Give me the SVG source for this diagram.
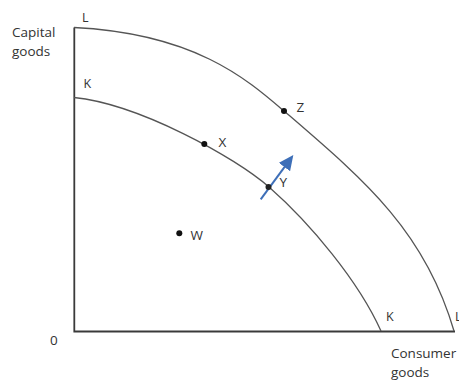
<svg xmlns="http://www.w3.org/2000/svg" width="459" height="383" viewBox="0 0 459 383">
<style>
.axis{fill:none;stroke:#3a3a3a;stroke-width:1.8}
.ppf{fill:none;stroke:#555;stroke-width:1.3}
.t{font-family:"Open Sans","Liberation Sans",sans-serif;fill:#333;font-size:13.5px}
.s{font-size:12.5px}
.dot{fill:#111}
.arrow{stroke:#3e6fb8;stroke-width:2;fill:none}
</style>
<defs>
<marker id="ah" markerUnits="userSpaceOnUse" markerWidth="16" markerHeight="14" refX="5" refY="7" orient="auto">
<path d="M0,0 L15,7 L0,14 z" fill="#3e6fb8"/>
</marker>
</defs>
<rect width="459" height="383" fill="#fff"/>
<g id="axes">
<path class="axis" d="M74.3,27.5 V331.5 H455"/>
<text class="t" x="12" y="37">Capital</text>
<text class="t" x="12" y="55.5">goods</text>
<text class="t" x="50" y="345">0</text>
<text class="t" x="391" y="358">Consumer</text>
<text class="t" x="391" y="377">goods</text>
</g>
<g id="connectors">
<path id="curve-L" class="ppf" d="M74,27.5 C194,33.5 246.1,78.4 284,111 C363.6,179.5 424.7,230.2 454,331"/>
<path id="curve-K" class="ppf" d="M74,97.5 C139,104 235.2,157.3 269,187 C310.3,223.4 358.4,280.8 381,331"/>
<line class="arrow" x1="260.7" y1="199.3" x2="287.4" y2="163.05" marker-end="url(#ah)"/>
</g>
<g id="label-L"><text class="t s" x="82" y="21.7">L</text><text class="t s" x="455" y="321">L</text></g>
<g id="label-K"><text class="t s" x="83.5" y="88.3">K</text><text class="t s" x="386" y="321">K</text></g>
<g id="point-W"><circle class="dot" cx="179.3" cy="233.3" r="3"/><text class="t" x="190.5" y="239.5">W</text></g>
<g id="point-X"><circle class="dot" cx="204.3" cy="144" r="3"/><text class="t" x="218.5" y="146.7">X</text></g>
<g id="point-Y"><circle cx="268.5" cy="187" r="3" fill="#222"/><text class="t" x="279.5" y="187">Y</text></g>
<g id="point-Z"><circle class="dot" cx="284" cy="111" r="3"/><text class="t" x="296.5" y="111.7">Z</text></g>
</svg>
